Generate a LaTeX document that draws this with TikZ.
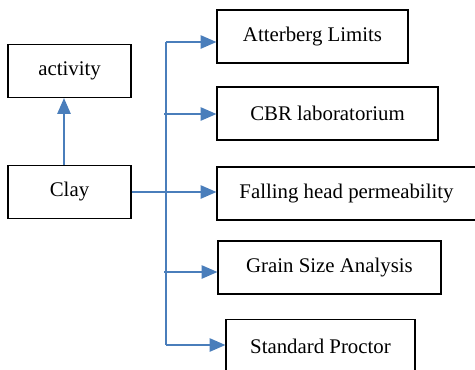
\documentclass[tikz,border=0pt]{standalone}
\usepackage{fontspec}
\setmainfont{Liberation Serif}
\usepackage{tikz}
\usetikzlibrary{arrows.meta}
\definecolor{lineblue}{RGB}{74,126,187}

\begin{document}
\begin{tikzpicture}[x=0.6pt, y=-0.6pt,
    >={Triangle[length=9.5pt,width=8pt]},
    box/.style={draw, line width=0.7pt, inner sep=0pt, minimum height=31.8pt, font=\fontsize{12.5}{15}\selectfont},
    link/.style={lineblue, line width=1pt}]
    \clip (0,0) rectangle (475,369);

    % Left boxes
    \node[box, minimum width=73.8pt] (activity) at (69.5,71) {activity};
    \node[box, minimum width=73.8pt] (clay) at (69.5,192) {Clay};

    % Test boxes
    \node[box, minimum width=114.6pt] (atterberg) at (312.5,36.5) {Atterberg Limits};
    \node[box, minimum width=132.6pt] (cbr) at (327.5,113.5) {CBR laboratorium};
    \node[box, minimum width=155.4pt] (falling) at (346.5,193.5) {Falling head permeability};
    \node[box, minimum width=133.8pt] (grain) at (329.5,267.5) {Grain Size Analysis};
    \node[box, minimum width=113.4pt] (proctor) at (320.5,346) {Standard Proctor};

    % Branch points
    \coordinate (top) at (166,42);
    \coordinate (bot) at (166,345);
    \coordinate (s1) at (164,114);
    \coordinate (s2) at (164,272);

    \draw[link,->] ([xshift=-3.3pt]clay.north) -- ([xshift=-3.3pt]activity.south); % Clay to activity
    \draw[link] (top) -- (bot); % trunk line
    \draw[link,->] (top) -- (top -| atterberg.west);
    \draw[link,->] (s1) -- (s1 -| cbr.west);
    \draw[link,->] (clay.east) -- (clay.east -| falling.west);
    \draw[link,->] (s2) -- (s2 -| grain.west);
    \draw[link,->] (bot) -- (bot -| proctor.west);

\end{tikzpicture}
\end{document}
